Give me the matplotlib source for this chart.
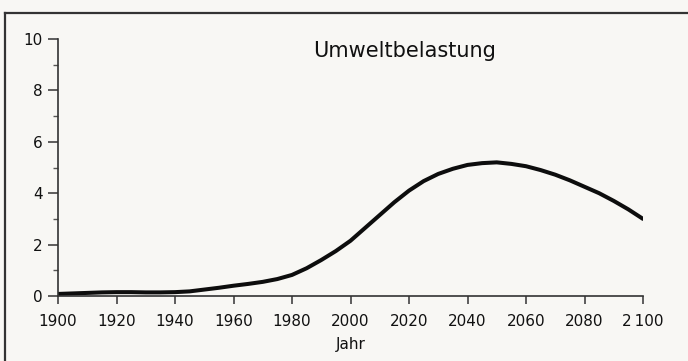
import matplotlib.pyplot as plt
from matplotlib.lines import Line2D

# Umweltbelastung, every 5 years
jahre = list(range(1900, 2101, 5))
werte = [0.08, 0.1, 0.12, 0.14, 0.15, 0.15, 0.14, 0.14, 0.15, 0.18,
         0.25, 0.32, 0.4, 0.47, 0.55, 0.66, 0.82, 1.08, 1.4, 1.75,
         2.15, 2.65, 3.15, 3.65, 4.1, 4.47, 4.75, 4.95, 5.1, 5.17,
         5.2, 5.14, 5.05, 4.9, 4.72, 4.5, 4.25, 4.0, 3.7, 3.37, 3.0]
x_ticks = list(range(1900, 2101, 20))
x_labels = [str(t) if t != 2100 else '2\u2009100' for t in x_ticks]
y_ticks = [0, 2, 4, 6, 8, 10]

plt.rcParams['font.family'] = 'DejaVu Sans'

fig = plt.figure(figsize=(6.88, 3.61), dpi=100, facecolor='#f8f7f4')
ax = fig.add_axes([58/688, 1 - 296/361, 585/688, 257/361])
ax.set_facecolor('#f8f7f4')

ax.plot(jahre, werte, color='#0d0d0d', lw=2.9, solid_capstyle='round',
        solid_joinstyle='round')

ax.set_xlim(1900, 2100)
ax.set_ylim(0, 10)
ax.set_xticks(x_ticks)
ax.set_xticklabels(x_labels)
ax.set_yticks(y_ticks)
ax.set_yticks(range(0, 11), minor=True)

for s in ['top', 'right']:
    ax.spines[s].set_visible(False)
for s in ['left', 'bottom']:
    ax.spines[s].set_color('#333333')
    ax.spines[s].set_linewidth(1.2)

ax.tick_params(axis='x', direction='out', length=6, width=1.1, color='#333333',
               labelsize=11, pad=7, labelcolor='#111111')
ax.tick_params(axis='y', which='major', direction='out', length=7, width=1.1,
               color='#333333', labelsize=11, pad=4, labelcolor='#111111')
ax.tick_params(axis='y', which='minor', direction='out', length=3.5, width=1.0,
               color='#555555')

ax.set_xlabel('Jahr', fontsize=11, color='#111111', labelpad=6)
ax.text(0.593, 0.955, 'Umweltbelastung', transform=ax.transAxes, fontsize=15,
        ha='center', va='center', color='#111111')

# outer frame of the scanned figure
fig.add_artist(Line2D([5/688, 1.0], [1 - 13/361] * 2, color='#333333', lw=1.6))
fig.add_artist(Line2D([5/688] * 2, [0.0, 1 - 13/361], color='#333333', lw=1.6))

fig.savefig('out.png', dpi=100, facecolor=fig.get_facecolor())
